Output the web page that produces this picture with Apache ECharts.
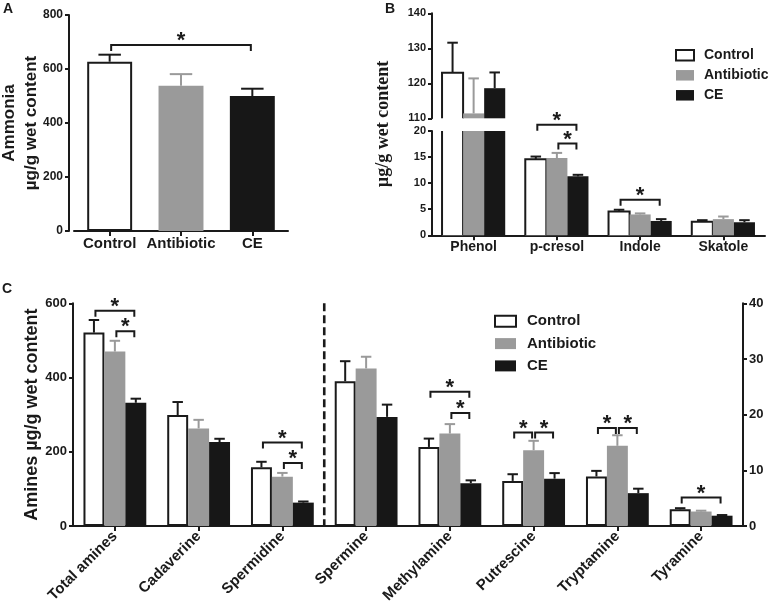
<!DOCTYPE html>
<html><head><meta charset="utf-8">
<script src="https://cdn.jsdelivr.net/npm/echarts@6/dist/echarts.min.js"></script>
<style>html,body{margin:0;padding:0;background:#fff}#chart{width:770px;height:608px}</style>
</head><body><div id="chart"></div>
<script>
// ---------- data ----------
const groupNames = ['Control', 'Antibiotic', 'CE'];

// Panel A – ammonia
const ammoniaCategories = ['Control', 'Antibiotic', 'CE'];
const ammoniaMean = [627, 538, 500];
const ammoniaError = [26, 43, 27];
const ammoniaAxis = { min: 0, max: 800, interval: 200 };
const ammoniaBrackets = [[0, 0, 2, 0, 689]]; // [fromCat, fromBar, toCat, toBar, y]

// Panel B – phenols and indoles
const phenolCategories = ['Phenol', 'p-cresol', 'Indole', 'Skatole'];
const phenolControl = [123.0, 14.6, 4.55, 2.6];
const phenolControlError = [8.6, 0.5, 0.35, 0.3];
const phenolAntibiotic = [111.4, 14.8, 4.0, 3.1];
const phenolAntibioticError = [10.0, 1.0, 0.2, 0.5];
const phenolCE = [118.6, 11.3, 2.75, 2.5];
const phenolCEError = [4.5, 0.3, 0.35, 0.4];
const phenolUpperAxis = { min: 110, max: 140, interval: 10 };
const phenolLowerAxis = { min: 0, max: 20, interval: 5 };
const phenolBrackets = [[1, 0, 1, 2, 21.2], [1, 1, 1, 2, 17.6], [2, 0, 2, 2, 6.8]];

// Panel C – amines (first 3 categories on left axis, the rest on right axis)
const amineCategories = ['Total amines', 'Cadaverine', 'Spermidine', 'Spermine', 'Methylamine', 'Putrescine', 'Tryptamine', 'Tyramine'];
const amineLeftCount = 3;
const amineControl = [521, 299, 158, 26.0, 14.2, 8.1, 8.9, 3.0];
const amineControlError = [34, 35, 15, 3.6, 1.5, 1.2, 1.0, 0.2];
const amineAntibiotic = [470, 263, 133, 28.3, 16.6, 13.6, 14.4, 2.6];
const amineAntibioticError = [29, 23, 10, 2.1, 1.7, 1.7, 1.9, 0.15];
const amineCE = [332, 226, 63, 19.6, 7.7, 8.5, 5.9, 1.85];
const amineCEError = [11, 9, 3, 2.2, 0.5, 1.0, 0.8, 0.12];
const amineLeftAxis = { min: 0, max: 600, interval: 200 };
const amineRightAxis = { min: 0, max: 40, interval: 10 };
const amineLeftBrackets = [[0, 0, 0, 2, 580], [0, 1, 0, 2, 525], [2, 0, 2, 2, 225], [2, 1, 2, 2, 170]];
const amineRightBrackets = [[4, 0, 4, 2, 24.1], [4, 1, 4, 2, 20.3], [5, 0, 5, 1, 16.8], [5, 1, 5, 2, 16.8],
  [6, 0, 6, 1, 17.6], [6, 1, 6, 2, 17.6], [7, 0, 7, 2, 5.1]];
const amineSeparator = [[amineLeftCount - 1, 600]];

// ---------- styles ----------
const INK = '#1a1a1a', GRAY = '#9a9a9a', BLACK = '#171717';
const FONT = '"Liberation Sans", Arial, sans-serif';
const groupFill = ['#ffffff', GRAY, BLACK];
const groupStroke = [INK, GRAY, BLACK];
const groupBorder = [2, 0, 0];
const errColor = [INK, GRAY, INK];

function valueAxis(gridIndex, range, fontSize, extra) {
  return Object.assign({
    type: 'value', gridIndex, min: range.min, max: range.max, interval: range.interval,
    axisLine: { show: true, onZero: false, lineStyle: { color: INK, width: 2 } },
    axisTick: { show: true, length: 4, lineStyle: { color: INK, width: 2 } },
    axisLabel: { color: INK, fontWeight: 'bold', fontSize, fontFamily: FONT, margin: 6 },
    splitLine: { show: false }
  }, extra || {});
}
function categoryAxis(gridIndex, cats, fontSize, extra) {
  return Object.assign({
    type: 'category', gridIndex, data: cats,
    axisLine: { show: true, onZero: false, lineStyle: { color: INK, width: 2 } },
    axisTick: { show: true, alignWithLabel: true, length: 5, lineStyle: { color: INK, width: 2 } },
    axisLabel: { color: INK, fontWeight: 'bold', fontSize, fontFamily: FONT, margin: 5, interval: 0 },
    splitLine: { show: false }
  }, extra || {});
}

function errorSeries(xi, yi, nBars, barIdx, barFrac, color, items) {
  return {
    type: 'custom', xAxisIndex: xi, yAxisIndex: yi, silent: true, z: 5, clip: false,
    encode: { x: 0, y: 1 }, data: items,
    renderItem: function (params, api) {
      const cat = api.value(0), mean = api.value(1), err = api.value(2);
      const band = api.size([1, 0])[0];
      const w = band * barFrac;
      const p0 = api.coord([cat, mean]), p1 = api.coord([cat, mean + err]);
      const cx = p0[0] + (barIdx - (nBars - 1) / 2) * w;
      const half = w * 0.25;
      const st = { stroke: color, lineWidth: 2 };
      return { type: 'group', children: [
        { type: 'line', shape: { x1: cx, y1: p0[1], x2: cx, y2: p1[1] }, style: st },
        { type: 'line', shape: { x1: cx - half, y1: p1[1], x2: cx + half, y2: p1[1] }, style: st }
      ] };
    }
  };
}

function bracketSeries(xi, yi, nBars, barFrac, items) {
  return {
    type: 'custom', xAxisIndex: xi, yAxisIndex: yi, silent: true, z: 6, clip: false,
    encode: { x: 0, y: 4 }, data: items,
    renderItem: function (params, api) {
      const band = api.size([1, 0])[0];
      const off = b => (b - (nBars - 1) / 2) * band * barFrac;
      const yv = api.value(4);
      const p1 = api.coord([api.value(0), yv]), p2 = api.coord([api.value(2), yv]);
      const x1 = p1[0] + off(api.value(1)) + 1.5, x2 = p2[0] + off(api.value(3)) - 1.5, y = p1[1];
      return { type: 'group', children: [
        { type: 'polyline', shape: { points: [[x1, y + 6], [x1, y], [x2, y], [x2, y + 6]] },
          style: { stroke: INK, lineWidth: 2, fill: null } },
        { type: 'text', x: (x1 + x2) / 2, y: y - 4,
          style: { text: '*', font: 'bold 22px ' + FONT, fill: INK, align: 'center', verticalAlign: 'middle' } }
      ] };
    }
  };
}

// bars drawn with open (unstroked) edges where they run out of a broken-axis segment
function brokenBarSeries(name, xi, yi, nBars, barIdx, barFrac, gi, values) {
  return {
    type: 'custom', name, xAxisIndex: xi, yAxisIndex: yi, silent: true, z: 2, clip: false,
    encode: { x: 0, y: 1 }, data: values.map((v, i) => [i, v]),
    renderItem: function (params, api) {
      const cs = params.coordSys;
      const cat = api.value(0), v = api.value(1);
      const band = api.size([1, 0])[0];
      const w = band * barFrac;
      const pTop = api.coord([cat, v]), pBase = api.coord([cat, 0]);
      const cx = pTop[0] + (barIdx - (nBars - 1) / 2) * w;
      const top = cs.y, bottom = cs.y + cs.height;
      const topOpen = pTop[1] < top;
      const yTop = Math.max(pTop[1], top), yBase = Math.min(pBase[1], bottom);
      if (yBase <= yTop) return null;
      const x0 = cx - w / 2, x1 = cx + w / 2;
      const children = [{ type: 'rect', shape: { x: x0, y: yTop, width: w, height: yBase - yTop },
        style: { fill: groupFill[gi] } }];
      if (groupBorder[gi] > 0) {
        const s = { stroke: groupStroke[gi], lineWidth: groupBorder[gi], fill: null };
        if (topOpen) {
          children.push({ type: 'line', shape: { x1: x0, y1: yTop, x2: x0, y2: yBase }, style: s });
          children.push({ type: 'line', shape: { x1: x1, y1: yTop, x2: x1, y2: yBase }, style: s });
        } else {
          children.push({ type: 'polyline', shape: { points: [[x0, yBase], [x0, yTop], [x1, yTop], [x1, yBase]] }, style: s });
        }
      }
      return { type: 'group', children };
    }
  };
}

// ---------- build option ----------
const amineValues = [amineControl, amineAntibiotic, amineCE];
const amineErrors = [amineControlError, amineAntibioticError, amineCEError];
const phenolValues = [phenolControl, phenolAntibiotic, phenolCE];
const phenolErrors = [phenolControlError, phenolAntibioticError, phenolCEError];

const series = [];
// Panel C bars (first, so legends take their style)
groupNames.forEach((g, gi) => {
  series.push({
    type: 'bar', name: g, xAxisIndex: 3, yAxisIndex: 3, barWidth: '25%', barGap: '0%', silent: true,
    data: amineValues[gi].map((v, i) => i < amineLeftCount ? v : '-'),
    itemStyle: { color: groupFill[gi], borderColor: groupStroke[gi], borderWidth: groupBorder[gi] }
  });
});
groupNames.forEach((g, gi) => {
  series.push({
    type: 'bar', name: g, xAxisIndex: 4, yAxisIndex: 4, barWidth: '25%', barGap: '0%', silent: true,
    data: amineValues[gi].map((v, i) => i >= amineLeftCount ? v : '-'),
    itemStyle: { color: groupFill[gi], borderColor: groupStroke[gi], borderWidth: groupBorder[gi] }
  });
});
groupNames.forEach((g, gi) => {
  const left = [], right = [];
  amineValues[gi].forEach((v, i) => {
    (i < amineLeftCount ? left : right).push([i, v, amineErrors[gi][i]]);
  });
  series.push(errorSeries(3, 3, 3, gi, 0.25, errColor[gi], left));
  series.push(errorSeries(4, 4, 3, gi, 0.25, errColor[gi], right));
});
series.push(bracketSeries(3, 3, 3, 0.25, amineLeftBrackets));
series.push(bracketSeries(4, 4, 3, 0.25, amineRightBrackets));
series.push({
  type: 'custom', xAxisIndex: 3, yAxisIndex: 3, silent: true, z: 4, clip: false,
  encode: { x: 0, y: 1 }, data: amineSeparator,
  renderItem: function (params, api) {
    const band = api.size([1, 0])[0];
    const pTop = api.coord([api.value(0), api.value(1)]), pBase = api.coord([api.value(0), 0]);
    const x = pTop[0] + band / 2;
    return { type: 'line', shape: { x1: x, y1: pTop[1], x2: x, y2: pBase[1] },
      style: { stroke: INK, lineWidth: 2.6, lineDash: [8, 4] } };
  }
});

// Panel A
series.push({
  type: 'bar', name: 'Ammonia', xAxisIndex: 0, yAxisIndex: 0, barWidth: '63%', silent: true,
  data: ammoniaMean.map((v, i) => ({ value: v,
    itemStyle: { color: groupFill[i], borderColor: groupStroke[i], borderWidth: groupBorder[i] } }))
});
ammoniaMean.forEach((v, i) => {
  series.push(errorSeries(0, 0, 1, 0, 0.63, errColor[i], [[i, v, ammoniaError[i]]]));
});
series.push(bracketSeries(0, 0, 1, 0.63, ammoniaBrackets));

// Panel B (broken axis: upper grid 1, lower grid 2)
groupNames.forEach((g, gi) => {
  series.push(brokenBarSeries(g, 1, 1, 3, gi, 0.253, gi, phenolValues[gi]));
  series.push(brokenBarSeries(g, 2, 2, 3, gi, 0.253, gi, phenolValues[gi]));
  const up = [], low = [];
  phenolValues[gi].forEach((v, i) => {
    const e = phenolErrors[gi][i];
    if (v >= phenolUpperAxis.min) up.push([i, v, e]);
    else if (v + e <= phenolLowerAxis.max) low.push([i, v, e]);
  });
  series.push(errorSeries(1, 1, 3, gi, 0.253, errColor[gi], up));
  series.push(errorSeries(2, 2, 3, gi, 0.253, errColor[gi], low));
});
series.push(bracketSeries(2, 2, 3, 0.253, phenolBrackets));

const nameStyle = (size) => ({ fontSize: size, fontWeight: 'bold', color: INK, fontFamily: FONT, lineHeight: 22 });

const option = {
  animation: false,
  backgroundColor: '#ffffff',
  textStyle: { fontFamily: FONT },
  grid: [
    { left: 74, top: 15, width: 214, height: 216, containLabel: false, outerBoundsMode: 'none' },
    { left: 432, top: 13.3, width: 333, height: 105, containLabel: false, outerBoundsMode: 'none' },
    { left: 432, top: 131, width: 333, height: 104.3, containLabel: false, outerBoundsMode: 'none' },
    { left: 73, top: 303.3, width: 670, height: 222.7, containLabel: false, outerBoundsMode: 'none' }
  ],
  xAxis: [
    categoryAxis(0, ammoniaCategories, 15),
    categoryAxis(1, phenolCategories, 14, { show: false }),
    categoryAxis(2, phenolCategories, 14),
    categoryAxis(3, amineCategories, 15, { axisLabel: { color: INK, fontWeight: 'bold', fontSize: 15, fontFamily: FONT, margin: 8, interval: 0, rotate: 45 } }),
    categoryAxis(3, amineCategories, 15, { show: false })
  ],
  yAxis: [
    valueAxis(0, ammoniaAxis, 12, { offset: 5, name: 'Ammonia\nµg/g wet content', nameLocation: 'middle',
      nameRotate: 90, nameGap: 27, nameMoveOverlap: false, nameTextStyle: nameStyle(17) }),
    valueAxis(1, phenolUpperAxis, 11),
    valueAxis(2, phenolLowerAxis, 11),
    valueAxis(3, amineLeftAxis, 13, { name: 'Amines µg/g wet content', nameLocation: 'middle',
      nameRotate: 90, nameGap: 30, nameMoveOverlap: false, nameTextStyle: nameStyle(18) }),
    valueAxis(3, amineRightAxis, 13, { position: 'right' })
  ],
  legend: [
    { data: groupNames, orient: 'vertical', left: 675, top: 48.3, padding: 0, icon: 'rect', selectedMode: false,
      itemWidth: 18, itemHeight: 10.5, itemGap: 6,
      textStyle: { fontSize: 14, fontWeight: 'bold', color: INK, fontFamily: FONT, lineHeight: 14, padding: [0, 0, 0, 5] } },
    { data: groupNames, orient: 'vertical', left: 494, top: 313.8, padding: 0, icon: 'rect', selectedMode: false,
      itemWidth: 21, itemHeight: 11, itemGap: 7.3,
      textStyle: { fontSize: 15, fontWeight: 'bold', color: INK, fontFamily: FONT, lineHeight: 15, padding: [0, 0, 0, 6] } }
  ],
  graphic: [
    { type: 'text', left: 3, top: 2, style: { text: 'A', font: 'bold 14px ' + FONT, fill: INK } },
    { type: 'text', left: 385, top: 2, style: { text: 'B', font: 'bold 14px ' + FONT, fill: INK } },
    { type: 'text', left: 2, top: 282, style: { text: 'C', font: 'bold 14px ' + FONT, fill: INK } },
    { type: 'text', x: 383, y: 124, rotation: Math.PI / 2,
      style: { text: 'µg/g wet content', font: 'bold 18px "Liberation Serif", "Times New Roman", serif',
        fill: INK, align: 'center', verticalAlign: 'middle' } }
  ],
  series
};

const chart = echarts.init(document.getElementById('chart'), null, { renderer: 'canvas' });
chart.setOption(option);
</script>
</body></html>
